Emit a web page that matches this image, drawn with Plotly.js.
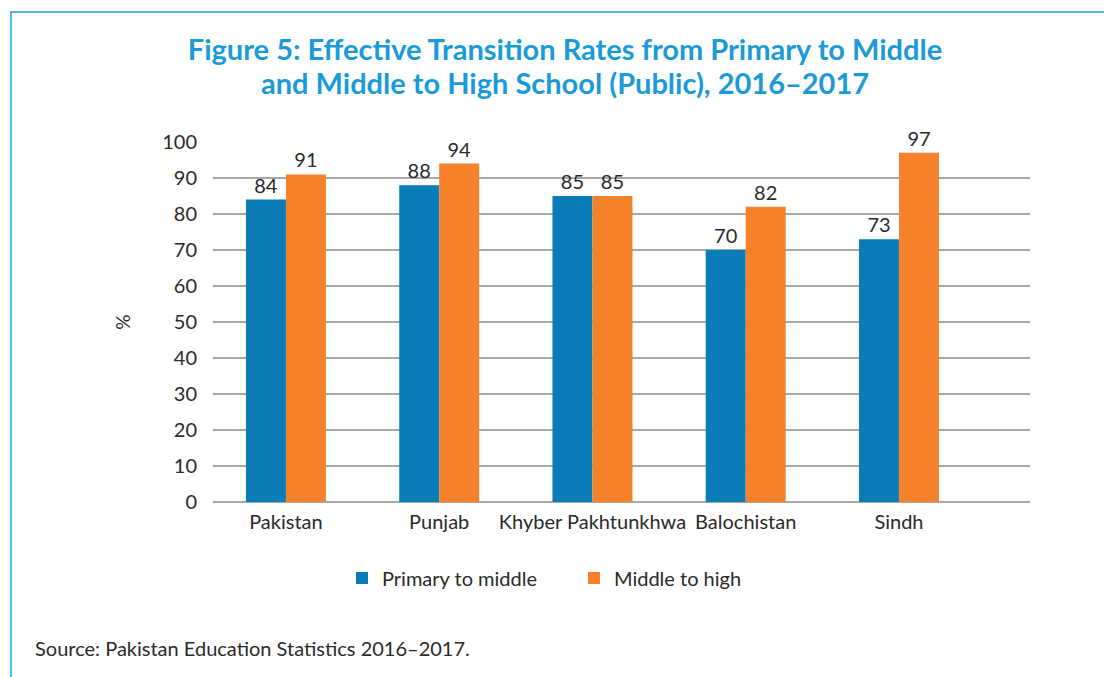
<!DOCTYPE html>
<html>
<head>
<meta charset="utf-8">
<script src="https://cdn.plot.ly/plotly-3.0.1.min.js"></script>
<style>
html,body{margin:0;padding:0;background:#fff;}
#chart{width:1104px;height:677px;}
</style>
</head>
<body>
<div id="chart"></div>
<script>
const categories = ["Pakistan", "Punjab", "Khyber Pakhtunkhwa", "Balochistan", "Sindh"];
const primaryToMiddle = [84, 88, 85, 70, 73];
const middleToHigh = [91, 94, 85, 82, 97];
const seriesNames = ["Primary to middle", "Middle to high"];
const yTicks = [0, 10, 20, 30, 40, 50, 60, 70, 80, 90, 100];
const titleLine1 = "Figure 5: Effective Transition Rates from Primary to Middle";
const titleLine2 = "and Middle to High School (Public), 2016–2017";
const sourceNote = "Source: Pakistan Education Statistics 2016–2017.";

const W = 1104, H = 677;
const mL = 213, mR = 74, mT = 142, mB = 175;
const pw = W - mL - mR, ph = H - mT - mB;
const px = v => (v - mL) / pw;
const py = v => (H - mB - v) / ph;

const FONT = "Lato, 'Open Sans', sans-serif";
const TXT = "#2a2a2a";
const FRAME = "#1ea0dc";
const TITLE_C = "#1a9bd7";

const traces = [
  {type: "bar", name: seriesNames[0], x: categories, y: primaryToMiddle,
   marker: {color: "#0a7db9"}, text: primaryToMiddle.map(String),
   textposition: "outside", cliponaxis: false,
   textfont: {family: FONT, size: 20, color: TXT}},
  {type: "bar", name: seriesNames[1], x: categories, y: middleToHigh,
   marker: {color: "#f5822a"}, text: middleToHigh.map(String),
   textposition: "outside", cliponaxis: false,
   textfont: {family: FONT, size: 20, color: TXT}}
];

const layout = {
  width: W, height: H,
  margin: {l: mL, r: mR, t: mT, b: mB, pad: 0},
  paper_bgcolor: "#fff", plot_bgcolor: "#fff",
  font: {family: FONT, color: TXT, size: 20},
  barmode: "group", bargap: 0.478, bargroupgap: 0,
  title: {
    text: titleLine1,
    font: {family: FONT, size: 29, color: TITLE_C, weight: 700},
    xref: "container", x: 565 / W, xanchor: "center",
    yref: "container", y: 1 - 50 / H, yanchor: "middle"
  },
  xaxis: {
    type: "category", range: [-0.476, 4.855],
    showgrid: false, zeroline: false, showline: false,
    ticks: "outside", ticklen: 2, tickcolor: "rgba(0,0,0,0)",
    tickfont: {family: FONT, size: 20, color: TXT}
  },
  yaxis: {
    range: [0, 100], tickvals: yTicks, ticktext: yTicks.map(String),
    showgrid: true, gridcolor: "#a8a8a8", gridwidth: 1.5,
    zeroline: true, zerolinecolor: "#a8a8a8", zerolinewidth: 1.5,
    ticks: "outside", ticklen: 11, tickcolor: "rgba(0,0,0,0)",
    tickfont: {family: FONT, size: 20, color: TXT},
    title: {text: "%", font: {family: FONT, size: 19, color: TXT}, standoff: 26}
  },
  showlegend: true,
  legend: {
    orientation: "h", x: px(342), xanchor: "left", y: py(578), yanchor: "middle",
    font: {family: FONT, size: 20, color: TXT},
    entrywidth: 187, entrywidthmode: "pixels", traceorder: "normal",
    bgcolor: "rgba(0,0,0,0)"
  },
  annotations: [
    {text: titleLine2, xref: "paper", yref: "paper",
     x: px(565), y: py(83), xanchor: "center", yanchor: "middle", showarrow: false,
     font: {family: FONT, size: 29, color: TITLE_C, weight: 700}},
    {text: sourceNote, xref: "paper", yref: "paper",
     x: px(33), y: py(648), xanchor: "left", yanchor: "middle", showarrow: false,
     font: {family: FONT, size: 20, color: TXT}}
  ],
  shapes: [
    {type: "path", xref: "paper", yref: "paper",
     path: `M ${px(11)} ${py(677)} L ${px(11)} ${py(12)} L ${px(1104)} ${py(12)}`,
     line: {color: FRAME, width: 1.5}}
  ]
};

Plotly.newPlot("chart", traces, layout, {displayModeBar: false, staticPlot: true});
</script>
</body>
</html>
